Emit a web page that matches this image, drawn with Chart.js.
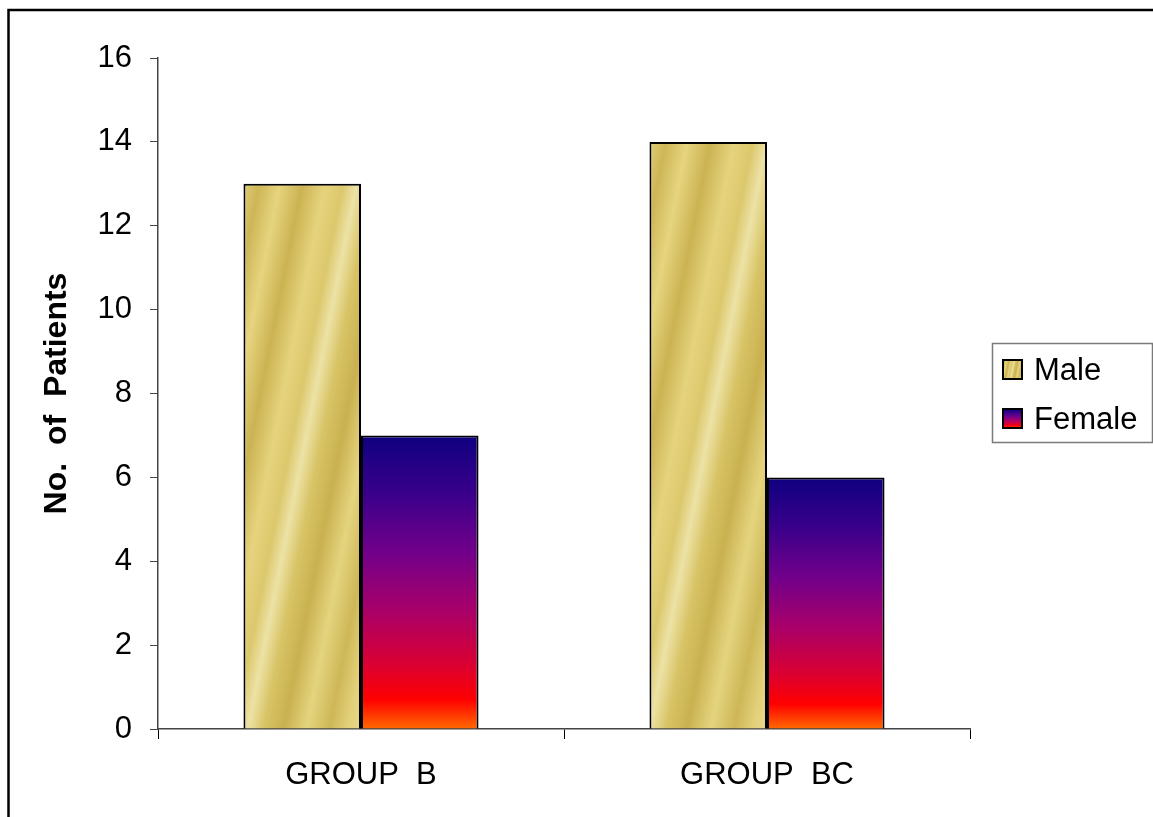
<!DOCTYPE html>
<html>
<head>
<meta charset="utf-8">
<script src="https://cdn.jsdelivr.net/npm/chart.js@4/dist/chart.umd.min.js"></script>
<style>
html,body{margin:0;padding:0;background:#fff;}
#wrap{width:1153px;height:817px;}
</style>
</head>
<body>
<div id="wrap"><canvas id="c" width="1153" height="817"></canvas></div>
<script>
const categories = ['GROUP  B', 'GROUP  BC'];
const seriesNames = ['Male', 'Female'];
const maleValues = [13, 14];
const femaleValues = [7, 6];
const yMin = 0, yMax = 16, yStep = 2;
const yTitle = 'No.  of  Patients';

const CAT_PCT = 0.579;
const FONT = "'Liberation Sans', Arial, sans-serif";

function barRect(chart, dsIndex, dataIndex, value) {
  const xs = chart.scales.x, ys = chart.scales.y;
  const cw = xs.width / categories.length;
  const c = xs.getPixelForValue(dataIndex);
  const gw = cw * CAT_PCT;
  const left = c - gw / 2 + dsIndex * gw / 2;
  return {left: left, right: left + gw / 2, top: ys.getPixelForValue(value), bottom: ys.getPixelForValue(0)};
}

function goldGradient(ctx2, r) {
  const s = 0.2;
  const p0 = r.left + s * r.top, p1 = r.right + s * r.bottom;
  const k = 1 + s * s;
  const g = ctx2.createLinearGradient(p0 / k, s * p0 / k, p1 / k, s * p1 / k);
  const stops = [
    [0, '#E0CD78'], [0.07, '#CDB656'], [0.16, '#E6D47F'], [0.26, '#CBB352'],
    [0.36, '#E5D37D'], [0.44, '#DCC86C'], [0.5, '#EDE2A6'], [0.57, '#D8C466'],
    [0.66, '#C9B150'], [0.76, '#E5D47F'], [0.86, '#CDB757'], [0.94, '#E3D07A'], [1, '#E8D88C']
  ];
  stops.forEach(function (st) { g.addColorStop(st[0], st[1]); });
  return g;
}

function femaleGradient(ctx2, top, bottom) {
  const g = ctx2.createLinearGradient(0, top, 0, bottom);
  g.addColorStop(0, '#0E0080');
  g.addColorStop(0.2, '#3A008A');
  g.addColorStop(0.4, '#72008A');
  g.addColorStop(0.6, '#AA0068');
  g.addColorStop(0.78, '#DA0032');
  g.addColorStop(0.9, '#FF0000');
  g.addColorStop(1, '#FF6A00');
  return g;
}

function maleBg(context) {
  const chart = context.chart;
  if (context.type !== 'data' || !chart.chartArea || !chart.scales.x) return '#D8C468';
  const r = barRect(chart, 0, context.dataIndex, maleValues[context.dataIndex]);
  return goldGradient(chart.ctx, r);
}
function femaleBg(context) {
  const chart = context.chart;
  if (context.type !== 'data' || !chart.chartArea || !chart.scales.x) return '#80007A';
  const r = barRect(chart, 1, context.dataIndex, femaleValues[context.dataIndex]);
  return femaleGradient(chart.ctx, r.top, r.bottom);
}

const framePlugin = {
  id: 'frame',
  beforeDraw(chart) {
    const c = chart.ctx;
    c.save();
    c.fillStyle = '#fff';
    c.fillRect(0, 0, chart.width, chart.height);
    c.restore();
  },
  afterDraw(chart) {
    const c = chart.ctx;
    c.save();
    // outer frame
    c.strokeStyle = '#000';
    c.lineWidth = 2.5;
    c.beginPath();
    c.moveTo(8.5, chart.height);
    c.lineTo(8.5, 10);
    c.lineTo(chart.width, 10);
    c.stroke();
    // legend
    const bx = 992.5, by = 343.5, bw = 160, bh = 99;
    c.strokeStyle = '#7a7a7a';
    c.lineWidth = 1.5;
    c.strokeRect(bx, by, bw, bh);
    c.font = '31px ' + FONT;
    c.textBaseline = 'middle';
    c.fillStyle = '#000';
    const rows = [370, 419];
    chart.data.datasets.forEach(function (ds, i) {
      const sx = 1003, sy = rows[i] - 10, ss = 19;
      if (i === 0) {
        c.fillStyle = goldGradient(c, {left: sx, right: sx + ss, top: sy, bottom: sy + ss});
      } else {
        c.fillStyle = femaleGradient(c, sy, sy + ss);
      }
      c.fillRect(sx, sy, ss, ss);
      c.strokeStyle = '#000';
      c.lineWidth = 2;
      c.strokeRect(sx, sy, ss, ss);
      c.fillStyle = '#000';
      c.fillText(ds.label, 1034, rows[i] + 1);
    });
    c.restore();
  }
};

new Chart(document.getElementById('c'), {
  type: 'bar',
  data: {
    labels: categories,
    datasets: [
      {label: seriesNames[0], data: maleValues, backgroundColor: maleBg, borderColor: '#000', borderWidth: 2,
       categoryPercentage: CAT_PCT, barPercentage: 1.0},
      {label: seriesNames[1], data: femaleValues, backgroundColor: femaleBg, borderColor: '#000', borderWidth: 2,
       categoryPercentage: CAT_PCT, barPercentage: 1.0}
    ]
  },
  options: {
    responsive: false,
    animation: false,
    layout: {padding: {top: 58, right: 183, bottom: 0, left: 0}},
    plugins: {legend: {display: false}, tooltip: {enabled: false}},
    scales: {
      x: {
        offset: true,
        grid: {display: true, drawOnChartArea: false, drawTicks: true, tickLength: 10, color: '#000', offset: true},
        border: {display: true, color: '#444', width: 1.5},
        ticks: {color: '#000', font: {family: FONT, size: 31}, padding: 18, maxRotation: 0},
        afterFit(scale) { scale.height = 88; }
      },
      y: {
        min: yMin, max: yMax,
        grid: {display: true, drawOnChartArea: false, drawTicks: true, tickLength: 8, color: '#444'},
        border: {display: true, color: '#444', width: 1.5},
        ticks: {stepSize: yStep, color: '#000', font: {family: FONT, size: 31}, padding: 18},
        title: {display: true, text: yTitle, color: '#000', font: {family: FONT, size: 32, weight: 'bold'}, padding: {top: 38, bottom: 0}},
        afterFit(scale) { scale.width = 158; }
      }
    }
  },
  plugins: [framePlugin]
});
</script>
</body>
</html>
